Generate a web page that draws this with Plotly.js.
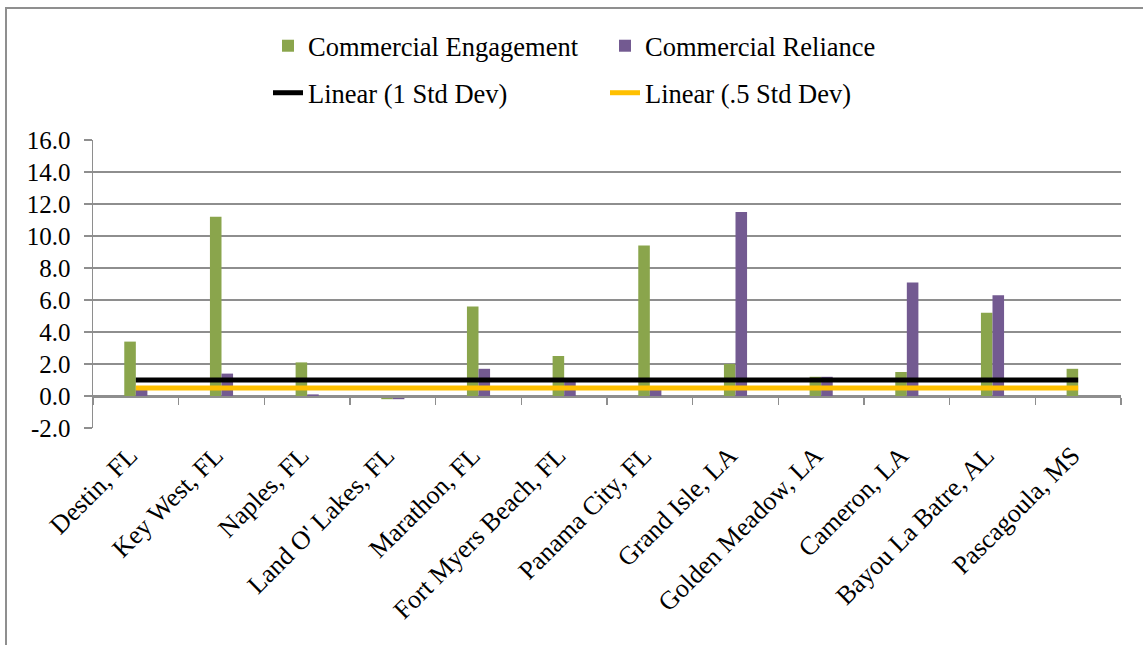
<!DOCTYPE html>
<html>
<head>
<meta charset="utf-8">
<script src="https://cdn.plot.ly/plotly-3.0.1.min.js"></script>
<style>
  html, body { margin: 0; padding: 0; background: #fff; overflow: hidden; }
  #wrap { position: relative; width: 1143px; height: 645px; overflow: hidden; }
  #chart { position: absolute; left: 0; top: 0; width: 1143px; height: 645px; }
  #frame { position: absolute; left: 5px; top: 7px; width: 1200px; height: 700px;
           border-left: 2px solid #8f8f8f; border-top: 2px solid #8f8f8f; pointer-events: none; }
</style>
</head>
<body>
<div id="wrap">
  <div id="chart"></div>
  <div id="frame"></div>
</div>
<script>
const categories = ["Destin, FL", "Key West, FL", "Naples, FL", "Land O' Lakes, FL", "Marathon, FL",
  "Fort Myers Beach, FL", "Panama City, FL", "Grand Isle, LA", "Golden Meadow, LA", "Cameron, LA",
  "Bayou La Batre, AL", "Pascagoula, MS"];
const engagement = [3.4, 11.2, 2.1, -0.2, 5.6, 2.5, 9.4, 2.0, 1.2, 1.5, 5.2, 1.7];
const reliance   = [0.4, 1.4, 0.1, -0.2, 1.7, 1.0, 0.4, 11.5, 1.2, 7.1, 6.3, 0.0];
const oneStdDev  = [1.0, 1.0, 1.0, 1.0, 1.0, 1.0, 1.0, 1.0, 1.0, 1.0, 1.0, 1.0];
const halfStdDev = [0.5, 0.5, 0.5, 0.5, 0.5, 0.5, 0.5, 0.5, 0.5, 0.5, 0.5, 0.5];
const yTickVals  = [-2, 0, 2, 4, 6, 8, 10, 12, 14, 16];
const yTickText  = ["-2.0", "0.0", "2.0", "4.0", "6.0", "8.0", "10.0", "12.0", "14.0", "16.0"];

const FONT = "'Liberation Serif', 'Times New Roman', serif";
const GRID = "#8e8e8e";
const W = 1143;

const traces = [
  { type: "bar", name: "Commercial Engagement", x: categories, y: engagement,
    marker: { color: "#8aa54c" }, legend: "legend", hoverinfo: "x+y" },
  { type: "bar", name: "Commercial Reliance", x: categories, y: reliance,
    marker: { color: "#735a91" }, legend: "legend", hoverinfo: "x+y" },
  { type: "scatter", mode: "lines", name: "Linear (1 Std Dev)", x: categories, y: oneStdDev,
    xaxis: "x2", line: { color: "#000000", width: 5 }, legend: "legend2" },
  { type: "scatter", mode: "lines", name: "Linear (.5 Std Dev)", x: categories, y: halfStdDev,
    xaxis: "x2", line: { color: "#ffc000", width: 5 }, legend: "legend2" }
];

const legendCommon = {
  orientation: "h", xref: "container", yref: "container",
  x: 268 / W, xanchor: "left", yanchor: "middle",
  font: { family: FONT, size: 26.5, color: "#000" },
  entrywidth: 292, entrywidthmode: "pixels",
  bgcolor: "rgba(0,0,0,0)", borderwidth: 0, tracegroupgap: 0
};

const layout = {
  width: W, height: 645,
  margin: { l: 93, r: 22, t: 140, b: 217 },
  paper_bgcolor: "#ffffff", plot_bgcolor: "#ffffff",
  font: { family: FONT, size: 25, color: "#000" },
  barmode: "group", bargap: 0.73, bargroupgap: 0,
  showlegend: true,
  legend: Object.assign({}, legendCommon, { y: 1 - 46 / 645 }),
  legend2: Object.assign({}, legendCommon, { y: 1 - 93 / 645 }),
  xaxis: {
    type: "category", showgrid: false, zeroline: false, showline: false,
    ticks: "", tickangle: -45, ticklabelstandoff: 6, ticklabelshift: -6,
    tickfont: { family: FONT, size: 26, color: "#000" }
  },
  xaxis2: {
    type: "category", overlaying: "x", matches: "x", anchor: "free", position: 2 / 18,
    showgrid: false, zeroline: false, showline: true, linecolor: GRID, linewidth: 1.5,
    ticks: "outside", tickson: "boundaries", ticklen: 7, tickcolor: GRID, tickwidth: 1.5,
    showticklabels: false
  },
  yaxis: {
    range: [-2, 16], tickvals: yTickVals, ticktext: yTickText,
    showgrid: true, gridcolor: GRID, gridwidth: 1.5, zeroline: false,
    showline: true, linecolor: GRID, linewidth: 1.5,
    ticks: "outside", ticklen: 8, tickcolor: GRID, tickwidth: 1.5,
    ticklabelstandoff: 8,
    tickfont: { family: FONT, size: 25, color: "#000" }
  }
};

Plotly.newPlot("chart", traces, layout, { displayModeBar: false, staticPlot: true });
</script>
</body>
</html>
